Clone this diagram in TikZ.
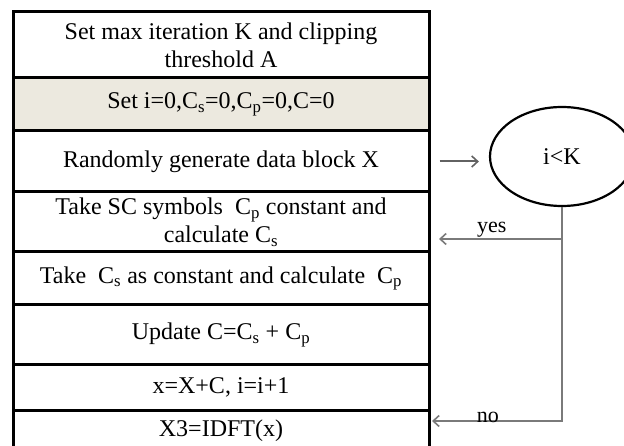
\documentclass[tikz,border=0pt]{standalone}
\usepackage{fontspec}
\setmainfont{Liberation Serif}
\usetikzlibrary{arrows.meta,shapes.geometric}
\definecolor{rowfill}{HTML}{ECE9DF}
\definecolor{conn}{HTML}{7A7A7A}
\tikzset{
  rowbox/.style={draw=black, line width=3pt, minimum width=416pt, align=center,
    inner sep=2pt, font=\fontsize{24}{28}\selectfont},
  decision/.style={ellipse, draw=black, line width=2.2pt, minimum width=144pt,
    minimum height=99pt, inner sep=0pt, font=\fontsize{24}{28}\selectfont},
  conline/.style={draw=conn, line width=2pt},
  conarrow/.style={conline, -{Straight Barb[length=6pt,width=11pt,line width=1.6pt]}},
  lbl/.style={font=\fontsize{22}{25}\selectfont, inner sep=1pt}
}
\begin{document}
\begin{tikzpicture}[x=1pt,y=-1pt]
\useasboundingbox (0,0) rectangle (624,446);
\node[rowbox, minimum height=66pt] (r1) at (221,45) {Set max iteration K and clipping\\threshold A};
\node[rowbox, fill=rowfill, minimum height=53pt] (r2) at (221,104.5) {Set i=0,C\textsubscript{s}=0,C\textsubscript{p}=0,C=0};
\node[rowbox, minimum height=61pt] (r3) at (221,161.5) {Randomly generate data block X};
\node[rowbox, minimum height=60pt] (r4) at (221,222) {Take SC symbols\ \ C\textsubscript{p} constant and\\calculate C\textsubscript{s}};
\node[rowbox, minimum height=53pt] (r5) at (221,278.5) {Take\ \ C\textsubscript{s} as constant and calculate\ \ C\textsubscript{p}};
\node[rowbox, minimum height=60pt] (r6) at (221,335) {Update C=C\textsubscript{s} + C\textsubscript{p}};
\node[rowbox, minimum height=45pt] (r7) at (221,387.5) {x=X+C, i=i+1};
\node[rowbox, minimum height=42pt] (r8) at (221,431) {X3=IDFT(x)};
\node[decision] (ell) at (562,156.5) {i<K};
\coordinate (turn) at (562,239);
\coordinate (yestip) at (439,239);
\coordinate (notip) at (432,421);
\draw[conarrow, draw=conn!80!black] ([xshift=9pt]r3.east) -- ([xshift=-10pt]ell.west |- r3.east);
\draw[conline] (ell.south) -- (turn);
\draw[conarrow] (turn) -- (yestip) node[lbl, pos=0.57, above] (yes) {yes};
\draw[conarrow] (turn) |- (notip) node[lbl, pos=0.785, anchor=base, yshift=-1pt] (no) {no};
\end{tikzpicture}
\end{document}
